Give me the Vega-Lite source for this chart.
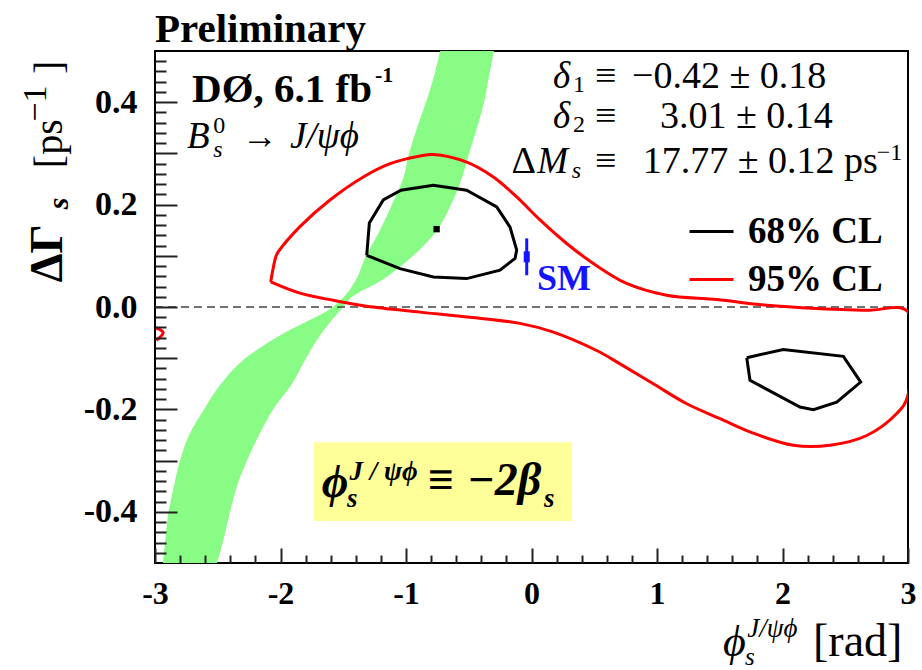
{
  "$schema": "https://vega.github.io/schema/vega-lite/v6.json",
  "width": 753,
  "height": 512,
  "autosize": {"type": "none"},
  "padding": {"left": 155, "top": 51, "right": 14, "bottom": 107},
  "background": "white",
  "config": {"view": {"stroke": "black", "strokeWidth": 2}, "font": "Liberation Serif"},
  "datasets": {
    "band": [
      {"g": 0.5, "xl": -0.729, "xr": -0.299},
      {"g": 0.45, "xl": -0.777, "xr": -0.339},
      {"g": 0.4, "xl": -0.841, "xr": -0.378},
      {"g": 0.35, "xl": -0.912, "xr": -0.434},
      {"g": 0.3, "xl": -0.976, "xr": -0.498},
      {"g": 0.25, "xl": -1.024, "xr": -0.558},
      {"g": 0.2, "xl": -1.112, "xr": -0.641},
      {"g": 0.15, "xl": -1.207, "xr": -0.753},
      {"g": 0.1, "xl": -1.319, "xr": -0.944},
      {"g": 0.05, "xl": -1.406, "xr": -1.21},
      {"g": 0.02, "xl": -1.494, "xr": -1.43},
      {"g": 0.0, "xl": -1.582, "xr": -1.502},
      {"g": -0.05, "xl": -1.964, "xr": -1.669},
      {"g": -0.1, "xl": -2.28, "xr": -1.797},
      {"g": -0.15, "xl": -2.474, "xr": -1.908},
      {"g": -0.2, "xl": -2.61, "xr": -2.06},
      {"g": -0.25, "xl": -2.729, "xr": -2.171},
      {"g": -0.3, "xl": -2.801, "xr": -2.267},
      {"g": -0.35, "xl": -2.849, "xr": -2.347},
      {"g": -0.4, "xl": -2.892, "xr": -2.402},
      {"g": -0.45, "xl": -2.916, "xr": -2.45},
      {"g": -0.5, "xl": -2.936, "xr": -2.506}
    ],
    "contours": [
      {"c": "r1", "cl": "95% CL", "i": 0, "x": -2.078, "y": 0.049},
      {"c": "r1", "cl": "95% CL", "i": 1, "x": -2.036, "y": 0.099},
      {"c": "r1", "cl": "95% CL", "i": 2, "x": -2.017, "y": 0.108},
      {"c": "r1", "cl": "95% CL", "i": 3, "x": -1.845, "y": 0.157},
      {"c": "r1", "cl": "95% CL", "i": 4, "x": -1.606, "y": 0.209},
      {"c": "r1", "cl": "95% CL", "i": 5, "x": -1.34, "y": 0.254},
      {"c": "r1", "cl": "95% CL", "i": 6, "x": -1.127, "y": 0.28},
      {"c": "r1", "cl": "95% CL", "i": 7, "x": -0.888, "y": 0.295},
      {"c": "r1", "cl": "95% CL", "i": 8, "x": -0.782, "y": 0.298},
      {"c": "r1", "cl": "95% CL", "i": 9, "x": -0.516, "y": 0.283},
      {"c": "r1", "cl": "95% CL", "i": 10, "x": -0.304, "y": 0.254},
      {"c": "r1", "cl": "95% CL", "i": 11, "x": -0.118, "y": 0.215},
      {"c": "r1", "cl": "95% CL", "i": 12, "x": 0.068, "y": 0.17},
      {"c": "r1", "cl": "95% CL", "i": 13, "x": 0.28, "y": 0.124},
      {"c": "r1", "cl": "95% CL", "i": 14, "x": 0.493, "y": 0.085},
      {"c": "r1", "cl": "95% CL", "i": 15, "x": 0.758, "y": 0.046},
      {"c": "r1", "cl": "95% CL", "i": 16, "x": 1.076, "y": 0.023},
      {"c": "r1", "cl": "95% CL", "i": 17, "x": 1.476, "y": 0.0145},
      {"c": "r1", "cl": "95% CL", "i": 18, "x": 1.874, "y": 0.0033},
      {"c": "r1", "cl": "95% CL", "i": 19, "x": 2.273, "y": -0.003},
      {"c": "r1", "cl": "95% CL", "i": 20, "x": 2.671, "y": -0.0065},
      {"c": "r1", "cl": "95% CL", "i": 21, "x": 2.995, "y": -0.0084},
      {"c": "r1", "cl": "95% CL", "i": 22, "x": 2.995, "y": -0.176},
      {"c": "r1", "cl": "95% CL", "i": 23, "x": 2.91, "y": -0.208},
      {"c": "r1", "cl": "95% CL", "i": 24, "x": 2.671, "y": -0.251},
      {"c": "r1", "cl": "95% CL", "i": 25, "x": 2.378, "y": -0.27},
      {"c": "r1", "cl": "95% CL", "i": 26, "x": 2.086, "y": -0.27},
      {"c": "r1", "cl": "95% CL", "i": 27, "x": 1.741, "y": -0.244},
      {"c": "r1", "cl": "95% CL", "i": 28, "x": 1.502, "y": -0.218},
      {"c": "r1", "cl": "95% CL", "i": 29, "x": 1.237, "y": -0.189},
      {"c": "r1", "cl": "95% CL", "i": 30, "x": 0.971, "y": -0.15},
      {"c": "r1", "cl": "95% CL", "i": 31, "x": 0.705, "y": -0.111},
      {"c": "r1", "cl": "95% CL", "i": 32, "x": 0.519, "y": -0.085},
      {"c": "r1", "cl": "95% CL", "i": 33, "x": 0.174, "y": -0.049},
      {"c": "r1", "cl": "95% CL", "i": 34, "x": -0.092, "y": -0.032},
      {"c": "r1", "cl": "95% CL", "i": 35, "x": -0.49, "y": -0.02},
      {"c": "r1", "cl": "95% CL", "i": 36, "x": -0.888, "y": -0.01},
      {"c": "r1", "cl": "95% CL", "i": 37, "x": -1.313, "y": 0.0014},
      {"c": "r1", "cl": "95% CL", "i": 38, "x": -1.579, "y": 0.013},
      {"c": "r1", "cl": "95% CL", "i": 39, "x": -1.845, "y": 0.027},
      {"c": "r1", "cl": "95% CL", "i": 40, "x": -2.078, "y": 0.049},
      {"c": "r2", "cl": "95% CL", "i": 0, "x": -2.99, "y": -0.041},
      {"c": "r2", "cl": "95% CL", "i": 1, "x": -2.935, "y": -0.05},
      {"c": "r2", "cl": "95% CL", "i": 2, "x": -2.99, "y": -0.065},
      {"c": "b1", "cl": "68% CL", "i": 0, "x": -1.313, "y": 0.101},
      {"c": "b1", "cl": "68% CL", "i": 1, "x": -1.292, "y": 0.164},
      {"c": "b1", "cl": "68% CL", "i": 2, "x": -1.181, "y": 0.209},
      {"c": "b1", "cl": "68% CL", "i": 3, "x": -1.04, "y": 0.228},
      {"c": "b1", "cl": "68% CL", "i": 4, "x": -0.782, "y": 0.238},
      {"c": "b1", "cl": "68% CL", "i": 5, "x": -0.517, "y": 0.228},
      {"c": "b1", "cl": "68% CL", "i": 6, "x": -0.277, "y": 0.1955},
      {"c": "b1", "cl": "68% CL", "i": 7, "x": -0.171, "y": 0.156},
      {"c": "b1", "cl": "68% CL", "i": 8, "x": -0.118, "y": 0.111},
      {"c": "b1", "cl": "68% CL", "i": 9, "x": -0.131, "y": 0.095},
      {"c": "b1", "cl": "68% CL", "i": 10, "x": -0.251, "y": 0.072},
      {"c": "b1", "cl": "68% CL", "i": 11, "x": -0.517, "y": 0.0555},
      {"c": "b1", "cl": "68% CL", "i": 12, "x": -0.782, "y": 0.0587},
      {"c": "b1", "cl": "68% CL", "i": 13, "x": -1.048, "y": 0.075},
      {"c": "b1", "cl": "68% CL", "i": 14, "x": -1.313, "y": 0.101},
      {"c": "b2", "cl": "68% CL", "i": 0, "x": 1.715, "y": -0.099},
      {"c": "b2", "cl": "68% CL", "i": 1, "x": 2.006, "y": -0.083},
      {"c": "b2", "cl": "68% CL", "i": 2, "x": 2.485, "y": -0.0964},
      {"c": "b2", "cl": "68% CL", "i": 3, "x": 2.623, "y": -0.1466},
      {"c": "b2", "cl": "68% CL", "i": 4, "x": 2.432, "y": -0.186},
      {"c": "b2", "cl": "68% CL", "i": 5, "x": 2.246, "y": -0.2006},
      {"c": "b2", "cl": "68% CL", "i": 6, "x": 2.139, "y": -0.1955},
      {"c": "b2", "cl": "68% CL", "i": 7, "x": 1.741, "y": -0.143},
      {"c": "b2", "cl": "68% CL", "i": 8, "x": 1.715, "y": -0.099}
    ]
  },
  "layer": [
    {
      "data": {"values": [{"x1": -1.733, "x2": 0.323, "y1": -0.264, "y2": -0.418}]},
      "mark": {"type": "rect", "color": "#ffff99"},
      "encoding": {
        "x": {"field": "x1", "type": "quantitative", "scale": {"domain": [-3, 3], "nice": false, "zero": false},
          "axis": {"orient": "bottom", "values": [-3, -2, -1, 0, 1, 2, 3], "tickSize": -15, "tickWidth": 2, "tickColor": "#222", "domain": false, "grid": false, "title": null, "labelFont": "Liberation Serif", "labelFontWeight": "bold", "labelFontSize": 32, "labelColor": "black", "labelPadding": 30, "labelFlush": false, "labelOverlap": false, "labelExpr": "(datum.value < 0 ? '-' : '') + format(abs(datum.value), 'd')", "zindex": 1}},
        "x2": {"field": "x2"},
        "y": {"field": "y1", "type": "quantitative", "scale": {"domain": [-0.5, 0.5], "nice": false, "zero": false},
          "axis": {"orient": "left", "values": [-0.4, -0.3, -0.2, -0.1, 0, 0.1, 0.2, 0.3, 0.4], "tickSize": -22, "tickWidth": 2, "tickColor": "#222", "domain": false, "grid": false, "title": null, "labelFont": "Liberation Serif", "labelFontWeight": "bold", "labelFontSize": 34, "labelColor": "black", "labelPadding": 40, "labelOverlap": false, "labelExpr": "abs(round(datum.value * 10)) % 2 == 0 ? ((datum.value < -0.000001 ? '-' : '') + format(abs(datum.value), '.1f')) : ''", "zindex": 1}},
        "y2": {"field": "y2"}
      }
    },
    {
      "data": {"name": "band"},
      "mark": {"type": "area", "orient": "horizontal", "interpolate": "monotone", "color": "#88fc84", "opacity": 1},
      "encoding": {
        "y": {"field": "g", "type": "quantitative", "scale": {"domain": [-0.5, 0.5], "nice": false, "zero": false},
          "axis": {"orient": "left", "values": [-0.48, -0.46, -0.44, -0.42, -0.38, -0.36, -0.34, -0.32, -0.28, -0.26, -0.24, -0.22, -0.18, -0.16, -0.14, -0.12, -0.08, -0.06, -0.04, -0.02, 0.02, 0.04, 0.06, 0.08, 0.12, 0.14, 0.16, 0.18, 0.22, 0.24, 0.26, 0.28, 0.32, 0.34, 0.36, 0.38, 0.42, 0.44, 0.46, 0.48], "tickSize": -11, "tickWidth": 2, "tickColor": "#222", "labels": false, "domain": false, "grid": false, "title": null, "zindex": 1}},
        "x": {"field": "xl", "type": "quantitative", "scale": {"domain": [-3, 3], "nice": false, "zero": false},
          "axis": {"orient": "bottom", "values": [-2.8, -2.6, -2.4, -2.2, -1.8, -1.6, -1.4, -1.2, -0.8, -0.6, -0.4, -0.2, 0.2, 0.4, 0.6, 0.8, 1.2, 1.4, 1.6, 1.8, 2.2, 2.4, 2.6, 2.8], "tickSize": -8, "tickWidth": 2, "tickColor": "#222", "labels": false, "domain": false, "grid": false, "title": null, "zindex": 1}},
        "x2": {"field": "xr"}
      }
    },
    {
      "data": {"values": [{"x1": -3, "x2": 3, "y": 0}]},
      "mark": {"type": "rule", "color": "#444", "strokeWidth": 1.5, "strokeDash": [8, 5]},
      "encoding": {
        "x": {"field": "x1", "type": "quantitative", "scale": {"domain": [-3, 3]}, "axis": null},
        "x2": {"field": "x2"},
        "y": {"field": "y", "type": "quantitative", "scale": {"domain": [-0.5, 0.5]}, "axis": null}
      }
    },
    {
      "data": {"name": "contours"},
      "transform": [{"filter": "datum.cl == '95% CL'"}],
      "mark": {"type": "line", "strokeWidth": 3, "clip": true, "interpolate": "catmull-rom"},
      "encoding": {
        "x": {"field": "x", "type": "quantitative", "scale": {"domain": [-3, 3]}, "axis": null},
        "y": {"field": "y", "type": "quantitative", "scale": {"domain": [-0.5, 0.5]}, "axis": null},
        "detail": {"field": "c"},
        "order": {"field": "i", "type": "quantitative"},
        "color": {"field": "cl", "type": "nominal", "scale": {"domain": ["68% CL", "95% CL"], "range": ["black", "#ff0000"]},
          "legend": {"orient": "none", "legendX": 533, "legendY": 157, "title": null, "symbolType": "stroke", "symbolSize": 1936, "symbolStrokeWidth": 3, "labelFont": "Liberation Serif", "labelFontWeight": "bold", "labelFontSize": 37, "labelColor": "black", "labelOffset": 13, "rowPadding": 6, "padding": 0}}
      }
    },
    {
      "data": {"name": "contours"},
      "transform": [{"filter": "datum.cl == '68% CL'"}],
      "mark": {"type": "line", "strokeWidth": 3, "clip": true},
      "encoding": {
        "x": {"field": "x", "type": "quantitative", "scale": {"domain": [-3, 3]}, "axis": null},
        "y": {"field": "y", "type": "quantitative", "scale": {"domain": [-0.5, 0.5]}, "axis": null},
        "detail": {"field": "c"},
        "order": {"field": "i", "type": "quantitative"},
        "color": {"field": "cl", "type": "nominal", "scale": {"domain": ["68% CL", "95% CL"], "range": ["black", "#ff0000"]},
          "legend": {"orient": "none", "legendX": 533, "legendY": 157, "title": null, "symbolType": "stroke", "symbolSize": 1936, "symbolStrokeWidth": 3, "labelFont": "Liberation Serif", "labelFontWeight": "bold", "labelFontSize": 37, "labelColor": "black", "labelOffset": 13, "rowPadding": 6, "padding": 0}}
      }
    },
    {
      "data": {"values": [{"x": -0.756, "y": 0.152}]},
      "mark": {"type": "point", "shape": "square", "filled": true, "size": 40, "color": "black", "opacity": 1},
      "encoding": {
        "x": {"field": "x", "type": "quantitative", "scale": {"domain": [-3, 3]}, "axis": null},
        "y": {"field": "y", "type": "quantitative", "scale": {"domain": [-0.5, 0.5]}, "axis": null}
      }
    },
    {
      "data": {"values": [{"x": -0.038, "y": 0.098, "lo": 0.062, "hi": 0.134}]},
      "mark": {"type": "rule", "color": "#1414ff", "strokeWidth": 3},
      "encoding": {
        "x": {"field": "x", "type": "quantitative", "scale": {"domain": [-3, 3]}, "axis": null},
        "y": {"field": "lo", "type": "quantitative", "scale": {"domain": [-0.5, 0.5]}, "axis": null},
        "y2": {"field": "hi"}
      }
    },
    {
      "data": {"values": [{"x": -0.038, "y": 0.098}]},
      "mark": {"type": "tick", "orient": "vertical", "color": "#1414ff", "size": 11, "thickness": 6, "opacity": 1},
      "encoding": {
        "x": {"field": "x", "type": "quantitative", "scale": {"domain": [-3, 3]}, "axis": null},
        "y": {"field": "y", "type": "quantitative", "scale": {"domain": [-0.5, 0.5]}, "axis": null}
      }
    },
    {
      "data": {"values": [{"x": 0.044, "y": 0.0326, "t": "SM"}]},
      "mark": {"type": "text", "align": "left", "baseline": "alphabetic", "font": "Liberation Serif", "fontSize": 36, "fontWeight": "bold", "color": "#1414ff"},
      "encoding": {
        "x": {"field": "x", "type": "quantitative", "scale": {"domain": [-3, 3]}, "axis": null},
        "y": {"field": "y", "type": "quantitative", "scale": {"domain": [-0.5, 0.5]}, "axis": null},
        "text": {"field": "t"}
      }
    },
    {
      "data": {"values": [{"x": -3, "y": 0.5175, "t": "Preliminary"}]},
      "mark": {"type": "text", "align": "left", "baseline": "alphabetic", "font": "Liberation Serif", "fontSize": 41, "fontWeight": "bold", "color": "black"},
      "encoding": {
        "x": {"field": "x", "type": "quantitative", "scale": {"domain": [-3, 3]}, "axis": null},
        "y": {"field": "y", "type": "quantitative", "scale": {"domain": [-0.5, 0.5]}, "axis": null},
        "text": {"field": "t"}
      }
    },
    {
      "data": {"values": [
        {"x": 0.506, "y": 0.427, "t": "≡"},
        {"x": 0.801, "y": 0.427, "t": "−0.42 ± 0.18"},
        {"x": 0.506, "y": 0.3488, "t": "≡"},
        {"x": 1.024, "y": 0.3488, "t": "3.01 ± 0.14"},
        {"x": -0.16, "y": 0.2608, "t": "Δ"},
        {"x": 0.506, "y": 0.2608, "t": "≡"},
        {"x": 0.886, "y": 0.2608, "t": "17.77 ± 0.12 ps"}
      ]},
      "mark": {"type": "text", "align": "left", "baseline": "alphabetic", "font": "Liberation Serif", "fontSize": 38, "color": "black"},
      "encoding": {
        "x": {"field": "x", "type": "quantitative", "scale": {"domain": [-3, 3]}, "axis": null},
        "y": {"field": "y", "type": "quantitative", "scale": {"domain": [-0.5, 0.5]}, "axis": null},
        "text": {"field": "t"}
      }
    },
    {
      "data": {"values": [{"x": -2.307, "y": 0.3097, "t": "→"}]},
      "mark": {"type": "text", "align": "left", "baseline": "alphabetic", "font": "Liberation Serif", "fontSize": 36, "color": "black"},
      "encoding": {
        "x": {"field": "x", "type": "quantitative", "scale": {"domain": [-3, 3]}, "axis": null},
        "y": {"field": "y", "type": "quantitative", "scale": {"domain": [-0.5, 0.5]}, "axis": null},
        "text": {"field": "t"}
      }
    },
    {
      "data": {"values": [
        {"x": 0.171, "y": 0.427, "t": "δ"},
        {"x": 0.171, "y": 0.3488, "t": "δ"},
        {"x": 0.045, "y": 0.2608, "t": "M"},
        {"x": -2.745, "y": 0.3097, "t": "B"},
        {"x": -1.924, "y": 0.3097, "t": "J/ψϕ"}
      ]},
      "mark": {"type": "text", "align": "left", "baseline": "alphabetic", "font": "Liberation Serif", "fontSize": 37, "fontStyle": "italic", "color": "black"},
      "encoding": {
        "x": {"field": "x", "type": "quantitative", "scale": {"domain": [-3, 3]}, "axis": null},
        "y": {"field": "y", "type": "quantitative", "scale": {"domain": [-0.5, 0.5]}, "axis": null},
        "text": {"field": "t"}
      }
    },
    {
      "data": {"values": [
        {"x": 0.331, "y": 0.4198, "t": "1"},
        {"x": 0.331, "y": 0.342, "t": "2"},
        {"x": 2.75, "y": 0.2868, "t": "−1"},
        {"x": -2.535, "y": 0.3396, "t": "0"}
      ]},
      "mark": {"type": "text", "align": "left", "baseline": "alphabetic", "font": "Liberation Serif", "fontSize": 24, "color": "black"},
      "encoding": {
        "x": {"field": "x", "type": "quantitative", "scale": {"domain": [-3, 3]}, "axis": null},
        "y": {"field": "y", "type": "quantitative", "scale": {"domain": [-0.5, 0.5]}, "axis": null},
        "text": {"field": "t"}
      }
    },
    {
      "data": {"values": [
        {"x": 0.32, "y": 0.251, "t": "s"},
        {"x": -2.535, "y": 0.2927, "t": "s"}
      ]},
      "mark": {"type": "text", "align": "left", "baseline": "alphabetic", "font": "Liberation Serif", "fontSize": 24, "fontStyle": "italic", "color": "black"},
      "encoding": {
        "x": {"field": "x", "type": "quantitative", "scale": {"domain": [-3, 3]}, "axis": null},
        "y": {"field": "y", "type": "quantitative", "scale": {"domain": [-0.5, 0.5]}, "axis": null},
        "text": {"field": "t"}
      }
    },
    {
      "data": {"values": [{"x": -2.705, "y": 0.4008, "t": "DØ, 6.1 fb"}]},
      "mark": {"type": "text", "align": "left", "baseline": "alphabetic", "font": "Liberation Serif", "fontSize": 41, "fontWeight": "bold", "color": "black"},
      "encoding": {
        "x": {"field": "x", "type": "quantitative", "scale": {"domain": [-3, 3]}, "axis": null},
        "y": {"field": "y", "type": "quantitative", "scale": {"domain": [-0.5, 0.5]}, "axis": null},
        "text": {"field": "t"}
      }
    },
    {
      "data": {"values": [{"x": -1.247, "y": 0.4393, "t": "-1"}]},
      "mark": {"type": "text", "align": "left", "baseline": "alphabetic", "font": "Liberation Serif", "fontSize": 22, "fontWeight": "bold", "color": "black"},
      "encoding": {
        "x": {"field": "x", "type": "quantitative", "scale": {"domain": [-3, 3]}, "axis": null},
        "y": {"field": "y", "type": "quantitative", "scale": {"domain": [-0.5, 0.5]}, "axis": null},
        "text": {"field": "t"}
      }
    },
    {
      "data": {"values": [
        {"x": -1.672, "y": -0.372, "t": "ϕ"},
        {"x": -0.825, "y": -0.368, "t": "≡"},
        {"x": -0.514, "y": -0.368, "t": "−2β"}
      ]},
      "mark": {"type": "text", "align": "left", "baseline": "alphabetic", "font": "Liberation Serif", "fontSize": 46, "fontWeight": "bold", "fontStyle": "italic", "color": "black"},
      "encoding": {
        "x": {"field": "x", "type": "quantitative", "scale": {"domain": [-3, 3]}, "axis": null},
        "y": {"field": "y", "type": "quantitative", "scale": {"domain": [-0.5, 0.5]}, "axis": null},
        "text": {"field": "t"}
      }
    },
    {
      "data": {"values": [
        {"x": -1.47, "y": -0.3916, "t": "s"},
        {"x": -1.45, "y": -0.338, "t": "J / ψϕ"},
        {"x": 0.1, "y": -0.3916, "t": "s"}
      ]},
      "mark": {"type": "text", "align": "left", "baseline": "alphabetic", "font": "Liberation Serif", "fontSize": 27, "fontWeight": "bold", "fontStyle": "italic", "color": "black"},
      "encoding": {
        "x": {"field": "x", "type": "quantitative", "scale": {"domain": [-3, 3]}, "axis": null},
        "y": {"field": "y", "type": "quantitative", "scale": {"domain": [-0.5, 0.5]}, "axis": null},
        "text": {"field": "t"}
      }
    },
    {
      "data": {"values": [{"x": -3.741, "y": 0.0483, "t": "ΔΓ"}]},
      "mark": {"type": "text", "align": "left", "baseline": "alphabetic", "angle": 270, "font": "Liberation Serif", "fontSize": 46, "fontWeight": "bold", "color": "black"},
      "encoding": {
        "x": {"field": "x", "type": "quantitative", "scale": {"domain": [-3, 3]}, "axis": null},
        "y": {"field": "y", "type": "quantitative", "scale": {"domain": [-0.5, 0.5]}, "axis": null},
        "text": {"field": "t"}
      }
    },
    {
      "data": {"values": [{"x": -3.693, "y": 0.191, "t": "s"}]},
      "mark": {"type": "text", "align": "left", "baseline": "alphabetic", "angle": 270, "font": "Liberation Serif", "fontSize": 30, "fontWeight": "bold", "fontStyle": "italic", "color": "black"},
      "encoding": {
        "x": {"field": "x", "type": "quantitative", "scale": {"domain": [-3, 3]}, "axis": null},
        "y": {"field": "y", "type": "quantitative", "scale": {"domain": [-0.5, 0.5]}, "axis": null},
        "text": {"field": "t"}
      }
    },
    {
      "data": {"values": [
        {"x": -3.741, "y": 0.2712, "t": "[ps"},
        {"x": -3.741, "y": 0.455, "t": "]"}
      ]},
      "mark": {"type": "text", "align": "left", "baseline": "alphabetic", "angle": 270, "font": "Liberation Serif", "fontSize": 40, "color": "black"},
      "encoding": {
        "x": {"field": "x", "type": "quantitative", "scale": {"domain": [-3, 3]}, "axis": null},
        "y": {"field": "y", "type": "quantitative", "scale": {"domain": [-0.5, 0.5]}, "axis": null},
        "text": {"field": "t"}
      }
    },
    {
      "data": {"values": [{"x": -3.869, "y": 0.362, "t": "−1"}]},
      "mark": {"type": "text", "align": "left", "baseline": "alphabetic", "angle": 270, "font": "Liberation Serif", "fontSize": 34, "color": "black"},
      "encoding": {
        "x": {"field": "x", "type": "quantitative", "scale": {"domain": [-3, 3]}, "axis": null},
        "y": {"field": "y", "type": "quantitative", "scale": {"domain": [-0.5, 0.5]}, "axis": null},
        "text": {"field": "t"}
      }
    },
    {
      "data": {"values": [{"x": 1.526, "y": -0.681, "t": "ϕ"}]},
      "mark": {"type": "text", "align": "left", "baseline": "alphabetic", "font": "Liberation Serif", "fontSize": 44, "fontStyle": "italic", "color": "black"},
      "encoding": {
        "x": {"field": "x", "type": "quantitative", "scale": {"domain": [-3, 3]}, "axis": null},
        "y": {"field": "y", "type": "quantitative", "scale": {"domain": [-0.5, 0.5]}, "axis": null},
        "text": {"field": "t"}
      }
    },
    {
      "data": {"values": [{"x": 1.701, "y": -0.6985, "t": "s"}]},
      "mark": {"type": "text", "align": "left", "baseline": "alphabetic", "font": "Liberation Serif", "fontSize": 25, "fontStyle": "italic", "color": "black"},
      "encoding": {
        "x": {"field": "x", "type": "quantitative", "scale": {"domain": [-3, 3]}, "axis": null},
        "y": {"field": "y", "type": "quantitative", "scale": {"domain": [-0.5, 0.5]}, "axis": null},
        "text": {"field": "t"}
      }
    },
    {
      "data": {"values": [{"x": 1.72, "y": -0.6438, "t": "J/ψϕ"}]},
      "mark": {"type": "text", "align": "left", "baseline": "alphabetic", "font": "Liberation Serif", "fontSize": 27, "fontStyle": "italic", "color": "black"},
      "encoding": {
        "x": {"field": "x", "type": "quantitative", "scale": {"domain": [-3, 3]}, "axis": null},
        "y": {"field": "y", "type": "quantitative", "scale": {"domain": [-0.5, 0.5]}, "axis": null},
        "text": {"field": "t"}
      }
    },
    {
      "data": {"values": [{"x": 2.243, "y": -0.681, "t": "[rad]"}]},
      "mark": {"type": "text", "align": "left", "baseline": "alphabetic", "font": "Liberation Serif", "fontSize": 46, "color": "black"},
      "encoding": {
        "x": {"field": "x", "type": "quantitative", "scale": {"domain": [-3, 3]}, "axis": null},
        "y": {"field": "y", "type": "quantitative", "scale": {"domain": [-0.5, 0.5]}, "axis": null},
        "text": {"field": "t"}
      }
    }
  ],
  "resolve": {"axis": {"x": "independent", "y": "independent"}}
}
